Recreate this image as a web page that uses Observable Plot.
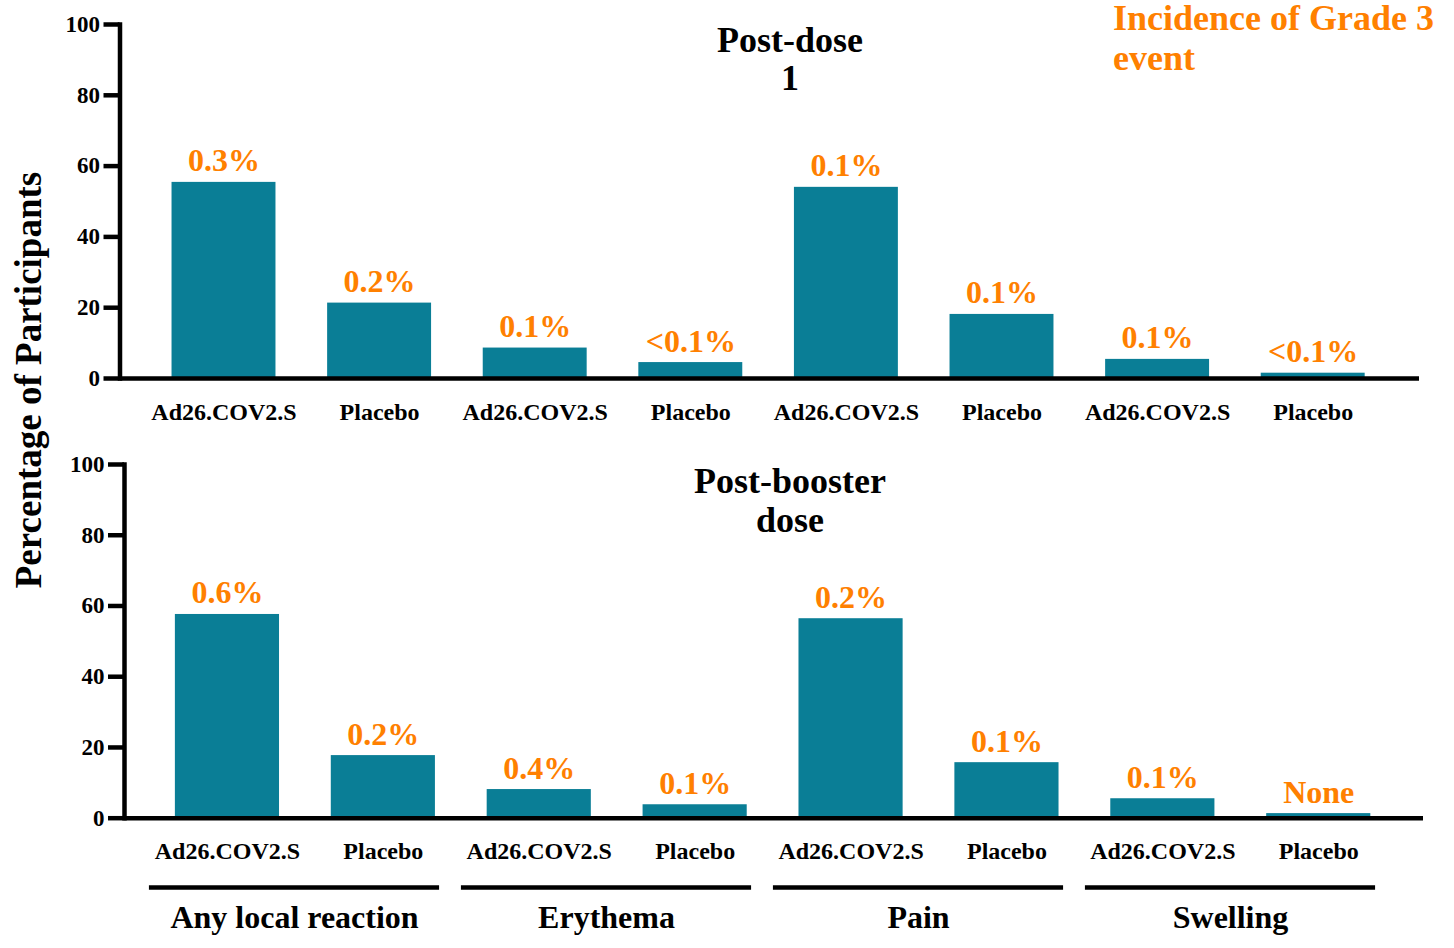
<!DOCTYPE html>
<html>
<head>
<meta charset="utf-8">
<script src="https://cdn.jsdelivr.net/npm/d3@7"></script>
<script src="https://cdn.jsdelivr.net/npm/@observablehq/plot@0.6"></script>
<style>
  html, body { margin: 0; padding: 0; background: #fff; }
  #root { position: relative; width: 1454px; height: 948px; font-family: "Liberation Serif", "Times New Roman", serif; font-weight: bold; }
  #root svg { position: absolute; left: 0; }
  .lbl { position: absolute; white-space: nowrap; }
</style>
</head>
<body>
<div id="root"></div>
<script>
// ---- data ----
const groups = ["Any local reaction", "Erythema", "Pain", "Swelling"];
const arms = ["Ad26.COV2.S", "Placebo"];
const postDose1Values = [55.4, 21.3, 8.6, 4.5, 54.0, 18.1, 5.4, 1.5];
const postDose1Labels = ["0.3%", "0.2%", "0.1%", "<0.1%", "0.1%", "0.1%", "0.1%", "<0.1%"];
const postBoosterValues = [57.6, 17.7, 8.1, 3.8, 56.4, 15.7, 5.5, 1.3];
const postBoosterLabels = ["0.6%", "0.2%", "0.4%", "0.1%", "0.2%", "0.1%", "0.1%", "None"];
const yTicks = [0, 20, 40, 60, 80, 100];
const panelTitles = ["Post-dose\n1", "Post-booster\ndose"];
const yLabel = "Percentage of Participants";
const legendText = "Incidence of Grade 3\nevent";

// ---- styling ----
const BAR = "#0A7E96";
const ORANGE = "#FF8000";
const FONT = "Liberation Serif";

function rows(values, labels) {
  return groups.flatMap((g, i) => arms.map((a, j) => ({
    key: g + "|" + a, group: g, arm: a, value: values[i * 2 + j], label: labels[i * 2 + j]
  })));
}

function panel(values, labels, opt) {
  const data = rows(values, labels);
  return Plot.plot({
    width: 1454,
    height: opt.height,
    marginTop: 24,
    marginBottom: opt.marginBottom,
    marginLeft: opt.marginLeft,
    marginRight: opt.marginRight,
    style: { fontFamily: FONT, fontWeight: "bold", background: "transparent", overflow: "visible", top: opt.top + "px" },
    x: { type: "band", domain: data.map(d => d.key), range: opt.xRange, paddingInner: 0.332, paddingOuter: 0.166, round: false, label: null },
    y: { domain: [0, 100], label: null },
    marks: [
      Plot.barY(data, { x: "key", y: "value", fill: BAR }),
      Plot.ruleY([0], { strokeWidth: 4.5, stroke: "#000" }),
      Plot.frame({ anchor: "left", strokeWidth: 4.5, stroke: "#000" }),
      Plot.axisY({ ticks: yTicks, tickSize: 16, tickPadding: 4, strokeWidth: 4.5, fontSize: 23, fill: "#000", label: null }),
      Plot.axisX({ tickSize: 0, tickPadding: 24, fontSize: 24, tickFormat: k => k.split("|")[1], label: null }),
      Plot.text(data, { x: "key", y: "value", text: "label", dy: -11, lineAnchor: "bottom", fill: ORANGE, fontSize: 32, fontWeight: "bold" })
    ]
  });
}

const root = document.getElementById("root");

const top1 = panel(postDose1Values, postDose1Labels, {
  top: 0, height: 440, marginBottom: 62, marginLeft: 119.5, marginRight: 35, xRange: [145.7, 1390.5]
});
root.appendChild(top1);

const bottom = panel(postBoosterValues, postBoosterLabels, {
  top: 440, height: 440, marginBottom: 62.3, marginLeft: 124, marginRight: 31, xRange: [149.0, 1396.2]
});
root.appendChild(bottom);

// group brackets below the bottom panel
const brackets = Plot.plot({
  width: 1454,
  height: 78,
  marginTop: 0,
  marginBottom: 61,
  marginLeft: 0,
  marginRight: 0,
  style: { fontFamily: FONT, fontWeight: "bold", background: "transparent", overflow: "visible", top: "870px" },
  x: { type: "band", domain: groups, range: [138, 1386], paddingInner: 0.07, paddingOuter: 0.035, round: false, axis: null },
  y: { domain: [0, 1], axis: null },
  marks: [
    Plot.tickY(groups, { x: d => d, y: () => 0, strokeWidth: 4.5, stroke: "#000" }),
    Plot.text(groups, { x: d => d, y: () => 0, text: d => d, dy: 30, fontSize: 32, fontWeight: "bold", fill: "#000" })
  ]
});
root.appendChild(brackets);

// HTML text: titles, legend, y label
function addLabel(text, css) {
  const d = document.createElement("div");
  d.className = "lbl";
  d.innerHTML = text.split("\n").join("<br>");
  Object.assign(d.style, css);
  root.appendChild(d);
}
addLabel(panelTitles[0], { left: "790px", top: "59px", transform: "translate(-50%,-50%)", fontSize: "36px", lineHeight: "38px", textAlign: "center", color: "#000" });
addLabel(panelTitles[1], { left: "790px", top: "501px", transform: "translate(-50%,-50%)", fontSize: "36px", lineHeight: "39px", textAlign: "center", color: "#000" });
addLabel(legendText, { left: "1113px", top: "-2px", fontSize: "36px", lineHeight: "40px", color: ORANGE });
addLabel(yLabel, { left: "28px", top: "380px", transform: "translate(-50%,-50%) rotate(-90deg)", fontSize: "37px", color: "#000" });
</script>
</body>
</html>
